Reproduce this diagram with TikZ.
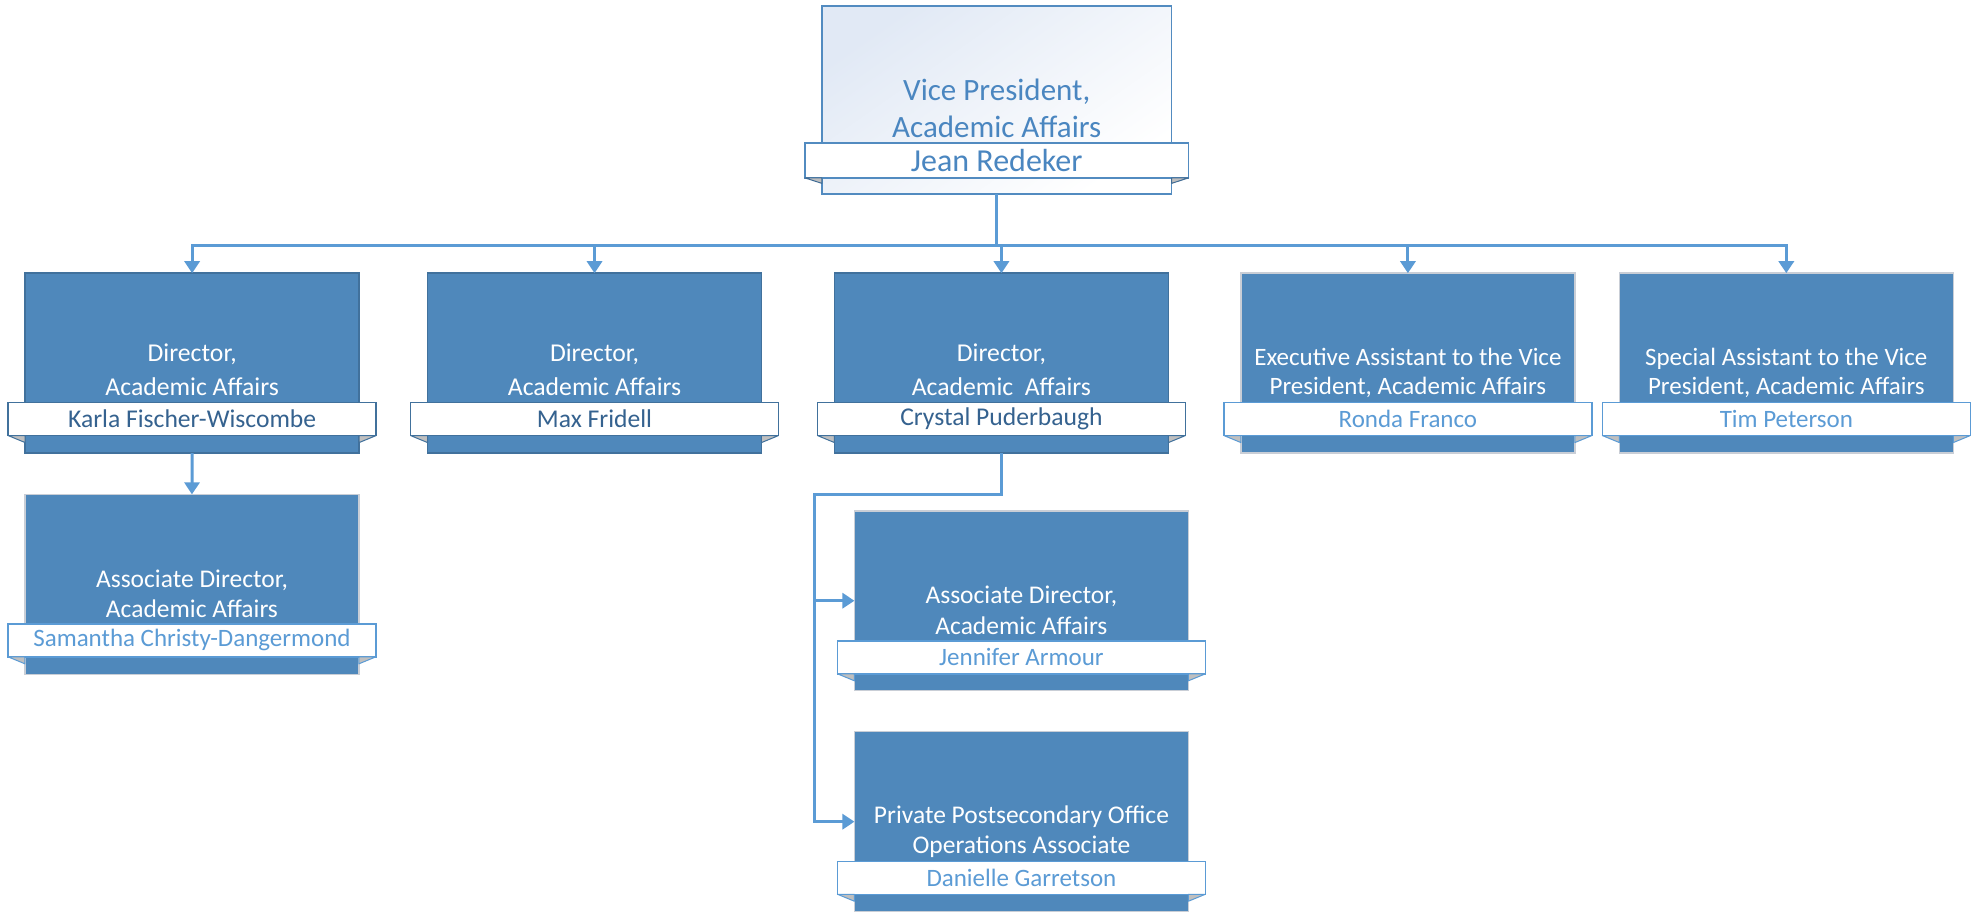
\documentclass[tikz,border=0pt]{standalone}
\usepackage{fontspec}
\setmainfont{Carlito}
\usetikzlibrary{arrows.meta}
\definecolor{boxfill}{HTML}{4F88BB}
\definecolor{boxdark}{HTML}{41719C}
\definecolor{linkblue}{HTML}{5B9BD5}
\definecolor{namedark}{HTML}{35628F}
\definecolor{vptext}{HTML}{4A86C0}
\definecolor{vpshade}{HTML}{E1E9F5}
\definecolor{foldgray}{HTML}{BFBFBF}
\definecolor{lightedge}{HTML}{C9CED6}
\begin{document}
\begin{tikzpicture}[x=1pt,y=-1pt,
  box/.style={rectangle, line width=1.5pt, fill=boxfill, inner sep=0pt, outer sep=0pt, minimum width=334pt, minimum height=180pt},
  darkbox/.style={box, draw=boxdark},
  lightbox/.style={box, draw=lightedge},
  vpbox/.style={rectangle, line width=1.5pt, draw=linkblue!90!black, top color=vpshade, bottom color=white, shading angle=35, inner sep=0pt, outer sep=0pt, minimum width=350pt, minimum height=188pt},
  band/.style={rectangle, fill=white, line width=1.5pt, inner sep=0pt, outer sep=0pt, minimum height=33pt},
  darkband/.style={band, draw=boxdark, text=namedark, font=\fontsize{25.6}{30}\selectfont},
  lightband/.style={band, draw=linkblue, text=linkblue, font=\fontsize{25}{29}\selectfont},
  vpband/.style={band, draw=linkblue!90!black, text=vptext, minimum height=35pt, font=\fontsize{32}{36}\selectfont},
  title/.style={align=center, text=white, inner sep=0pt},
  dirtitle/.style={title, font=\fontsize{25.7}{33.4}\selectfont},
  asttitle/.style={title, font=\fontsize{25}{29.4}\selectfont},
  assoctitle/.style={title, font=\fontsize{25.5}{30.5}\selectfont},
  vptitle/.style={align=center, text=vptext, inner sep=0pt, font=\fontsize{31}{37}\selectfont},
  fold/.style={fill=foldgray, draw=#1, line width=1pt, line join=round},
  conn/.style={draw=linkblue, line width=3pt, -{Triangle[width=15pt,length=12pt]}},
  busline/.style={draw=linkblue, line width=3pt}]

\fill[white] (0,0) rectangle (1971,912);

% ---------- Vice President ----------
\node[vpbox] (vp) at (997,100) {};
\node[vptitle] (vpt) at (997,108) {Vice President,\\Academic Affairs};
\node[vpband, minimum width=384pt] (vpn) at (997,160.4) {Jean Redeker};
\draw[fold=linkblue!70!black] (vpn.south west) -- (vp.west |- vpn.south) -- ([yshift=-5.5pt]vp.west |- vpn.south) -- cycle;
\draw[fold=linkblue!70!black] (vpn.south east) -- (vp.east |- vpn.south) -- ([yshift=-5.5pt]vp.east |- vpn.south) -- cycle;

% ---------- Level 2 ----------
\node[darkbox] (d1) at (192.2,363.3) {};
\node[dirtitle] (d1t) at (192.2,370) {Director,\\Academic Affairs};
\node[darkband, minimum width=368pt] (d1n) at (192.2,419.2) {Karla Fischer-Wiscombe};

\node[darkbox] (d2) at (594.7,363.3) {};
\node[dirtitle] (d2t) at (594.7,370) {Director,\\Academic Affairs};
\node[darkband, minimum width=368pt] (d2n) at (594.7,419.2) {Max Fridell};

\node[darkbox] (d3) at (1001.7,363.3) {};
\node[dirtitle] (d3t) at (1001.7,370) {Director,\\Academic\ \ Affairs};
\node[darkband, minimum width=368pt] (d3n) at (1001.7,419.2) {Crystal Puderbaugh};

\node[lightbox] (d4) at (1408.3,363.3) {};
\node[asttitle] (d4t) at (1408.3,373) {Executive Assistant to the Vice\\President, Academic Affairs};
\node[lightband, minimum width=368pt] (d4n) at (1408.3,419.2) {Ronda Franco};

\node[lightbox] (d5) at (1786.8,363.3) {};
\node[asttitle] (d5t) at (1786.8,373) {Special Assistant to the Vice\\President, Academic Affairs};
\node[lightband, minimum width=368pt] (d5n) at (1786.8,419.2) {Tim Peterson};

% ---------- Level 3 ----------
\node[lightbox] (a1) at (192,584.5) {};
\node[assoctitle] (a1t) at (192,594) {Associate Director,\\Academic Affairs};
\node[lightband, minimum width=368pt] (a1n) at (192,640.5) {Samantha Christy-Dangermond};

\node[lightbox] (a2) at (1021.7,600.9) {};
\node[assoctitle] (a2t) at (1021.7,610.5) {Associate Director,\\Academic Affairs};
\node[lightband, minimum width=368pt] (a2n) at (1021.7,657.5) {Jennifer Armour};

\node[lightbox] (a3) at (1021.7,821.9) {};
\node[assoctitle] (a3t) at (1021.7,831.7) {Private Postsecondary Office\\Operations Associate};
\node[lightband, minimum width=368pt] (a3n) at (1021.7,878) {Danielle Garretson};

% ---------- folds of name bands ----------
\foreach \b/\c in {d1/boxdark,d2/boxdark,d3/boxdark,d4/linkblue,d5/linkblue,a1/linkblue,a2/linkblue,a3/linkblue}{
  \draw[fold=\c] (\b n.south west) -- (\b.west |- \b n.south) -- ([yshift=-7pt]\b.west |- \b n.south) -- cycle;
  \draw[fold=\c] (\b n.south east) -- (\b.east |- \b n.south) -- ([yshift=-7pt]\b.east |- \b n.south) -- cycle;
}

% ---------- connectors ----------
\coordinate (bus) at (997,246);
\draw[busline] (vp.south) -- (vp.south |- bus);
\foreach \t in {d1,d2,d3,d4,d5}{
  \draw[conn] (vp.south |- bus) -| (\t.north);
}
\draw[conn] (d1.south) -- (a1.north);
\coordinate (jog) at (815,495);
\draw[conn] (d3.south) |- (jog) |- (a2.west);
\draw[conn] (d3.south) |- (jog) |- (a3.west);
\end{tikzpicture}
\end{document}
